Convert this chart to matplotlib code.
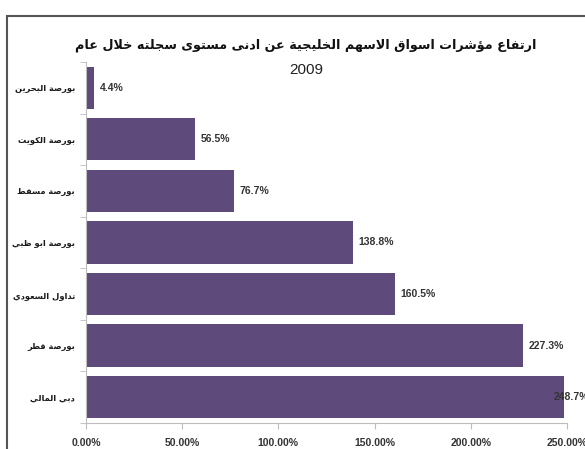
import numpy as np
import matplotlib
matplotlib.use("Agg")
import matplotlib.pyplot as plt
from matplotlib.patches import Rectangle

# chart data (top to bottom as in the picture)
markets = ["بورصة البحرين", "بورصة الكويت", "بورصة مسقط", "بورصة ابو ظبي",
           "تداول السعودي", "بورصة قطر", "دبي المالي"]
rise_pct = [4.4, 56.5, 76.7, 138.8, 160.5, 227.3, 248.7]
x_ticks = [0, 50, 100, 150, 200, 250]
title_line1 = "ارتفاع مؤشرات اسواق الاسهم الخليجية عن ادنى مستوى سجلته خلال عام"
title_line2 = "2009"

bar_color = "#5e4a7b"
axis_gray = "#bdbdbd"

# matplotlib has no arabic shaping, so join the letters by hand
# (isolated presentation form, joining type: 0 none, 1 right only, 2 dual)
AR = {
    '\u0621': (0xFE80, 0), '\u0622': (0xFE81, 1), '\u0623': (0xFE83, 1), '\u0624': (0xFE85, 1),
    '\u0625': (0xFE87, 1), '\u0626': (0xFE89, 2), '\u0627': (0xFE8D, 1), '\u0628': (0xFE8F, 2),
    '\u0629': (0xFE93, 1), '\u062A': (0xFE95, 2), '\u062B': (0xFE99, 2), '\u062C': (0xFE9D, 2),
    '\u062D': (0xFEA1, 2), '\u062E': (0xFEA5, 2), '\u062F': (0xFEA9, 1), '\u0630': (0xFEAB, 1),
    '\u0631': (0xFEAD, 1), '\u0632': (0xFEAF, 1), '\u0633': (0xFEB1, 2), '\u0634': (0xFEB5, 2),
    '\u0635': (0xFEB9, 2), '\u0636': (0xFEBD, 2), '\u0637': (0xFEC1, 2), '\u0638': (0xFEC5, 2),
    '\u0639': (0xFEC9, 2), '\u063A': (0xFECD, 2), '\u0641': (0xFED1, 2), '\u0642': (0xFED5, 2),
    '\u0643': (0xFED9, 2), '\u0644': (0xFEDD, 2), '\u0645': (0xFEE1, 2), '\u0646': (0xFEE5, 2),
    '\u0647': (0xFEE9, 2), '\u0648': (0xFEED, 1), '\u0649': (0xFEEF, 1), '\u064A': (0xFEF1, 2),
}
LAM_ALEF = {'\u0622': 0xFEF5, '\u0623': 0xFEF7, '\u0625': 0xFEF9, '\u0627': 0xFEFB}


def shape(text):
    units = []
    i = 0
    while i < len(text):
        c = text[i]
        if c == '\u0644' and i + 1 < len(text) and text[i + 1] in LAM_ALEF:
            units.append(('LA', LAM_ALEF[text[i + 1]]))
            i += 2
        else:
            units.append((c, None))
            i += 1
    out = []
    for k, (c, lig) in enumerate(units):
        prev = units[k - 1][0] if k > 0 else None
        nxt = units[k + 1][0] if k + 1 < len(units) else None
        prev_joins = prev is not None and prev != 'LA' and AR.get(prev, (0, 0))[1] == 2
        if c == 'LA':
            out.append(chr(lig + (1 if prev_joins else 0)))
            continue
        if c not in AR:
            out.append(c)
            continue
        base, kind = AR[c]
        next_joins = nxt is not None and (nxt == 'LA' or (nxt in AR and AR[nxt][1] > 0))
        if kind == 0:
            form = 0
        elif kind == 1:
            form = 1 if prev_joins else 0
        elif prev_joins and next_joins:
            form = 3
        elif prev_joins:
            form = 1
        elif next_joins:
            form = 2
        else:
            form = 0
        out.append(chr(base + form))
    return ''.join(reversed(out))


latin = "Liberation Sans"

fig = plt.figure(figsize=(5.85, 4.49), dpi=100)
ax = fig.add_axes([0.147, 0.058, 0.822, 0.804])

y = np.arange(len(markets))
ax.barh(y, rise_pct, height=0.82, color=bar_color, zorder=2)
ax.set_ylim(len(markets) - 0.5, -0.5)
ax.set_xlim(x_ticks[0], x_ticks[-1])

for yi, v in zip(y, rise_pct):
    ax.annotate(f"{v:.1f}%", xy=(min(v, 240), yi), xytext=(4, 0),
                textcoords="offset points", ha="left", va="center",
                fontsize=7.5, fontweight="bold", family=latin, color="#333333")

ax.set_xticks(x_ticks)
ax.set_xticklabels([f"{t:.2f}%" for t in x_ticks], fontsize=7.5, fontweight="bold",
                   family=latin, color="#333333")
ax.tick_params(axis="x", length=4, color=axis_gray, pad=7)

ax.set_yticks(y)
ax.set_yticklabels([shape(m) for m in markets], fontsize=6, fontweight="bold",
                   color="#1a1a1a")
ax.tick_params(axis="y", length=0, pad=8)
ax.set_yticks(np.arange(len(markets) + 1) - 0.5, minor=True)
ax.tick_params(axis="y", which="minor", length=4, color=axis_gray)

for s in ["top", "right"]:
    ax.spines[s].set_visible(False)
for s in ["left", "bottom"]:
    ax.spines[s].set_color(axis_gray)

fig.text(0.523, 0.90, shape(title_line1), ha="center", va="center",
         fontsize=9.2, fontweight="bold", color="#111111")
fig.text(0.523, 0.843, title_line2, ha="center", va="center",
         fontsize=11, color="#222222", family=latin)

# chart frame, cut off at right and bottom like the picture
fig.patches.append(Rectangle((7 / 585, -0.2), 1.2, (449 - 16) / 449 + 0.2,
                             transform=fig.transFigure, fill=False,
                             edgecolor="#555555", linewidth=1.5))

fig.savefig("out.png", dpi=100)
